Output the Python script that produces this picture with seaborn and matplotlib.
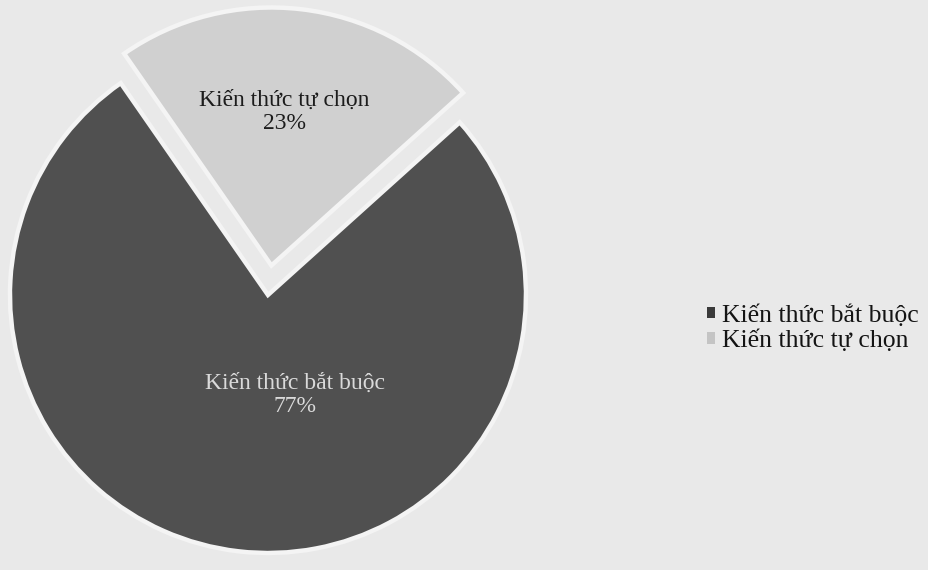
import matplotlib
matplotlib.use("Agg")
import matplotlib.pyplot as plt
import seaborn as sns
import numpy as np

# Data
categories = ["Kiến thức bắt buộc", "Kiến thức tự chọn"]
shares = [77, 23]

sns.set_theme(style="white")
plt.rcParams["font.family"] = ["Liberation Serif", "DejaVu Serif"]

bg = "#e9e9e9"
slice_colors = ["#505050", "#d0d0d0"]
label_colors = ["#dadada", "#1c1c1c"]

fig = plt.figure(figsize=(9.29, 5.70), dpi=100, facecolor=bg)
ax = fig.add_axes([-0.0587, -0.0833, 0.6943, 1.1316])
ax.set_facecolor(bg)

wedges, texts = ax.pie(
    shares,
    colors=slice_colors,
    startangle=124.8,
    counterclock=True,
    explode=[0.0, 0.115],
    radius=1.0,
    wedgeprops=dict(linewidth=3.2, edgecolor="#f4f4f4"),
)

# Place labels inside wedges
dist = [0.39, 0.60]
xshift = [0.15, -0.02]
for w, name, val, d, dx, col in zip(wedges, categories, shares, dist, xshift, label_colors):
    mid = np.deg2rad((w.theta1 + w.theta2) / 2)
    cx, cy = w.center
    x = cx + d * np.cos(mid) + dx
    y = cy + d * np.sin(mid)
    ax.text(x, y, f"{name}\n{val}%", ha="center", va="center",
            fontsize=17, color=col, linespacing=1.1)

ax.set_xlim(-1.25, 1.25)
ax.set_ylim(-1.25, 1.25)
ax.set_aspect("equal")
ax.axis("off")

leg = ax.legend(
    wedges, categories,
    loc="center left",
    bbox_to_anchor=(0.761, 0.424),
    bbox_transform=fig.transFigure,
    frameon=False,
    fontsize=18.5,
    handlelength=0.3,
    handleheight=0.3,
    handletextpad=0.3,
    labelspacing=0.12,
    borderpad=0,
    borderaxespad=0,
)
for t in leg.get_texts():
    t.set_color("#141414")
for h, c in zip(leg.legend_handles, ["#3a3a3a", "#c4c4c4"]):
    h.set_facecolor(c)
    h.set_edgecolor("none")
    h.set_linewidth(0)

fig.savefig("out.png", dpi=100, facecolor=bg)
